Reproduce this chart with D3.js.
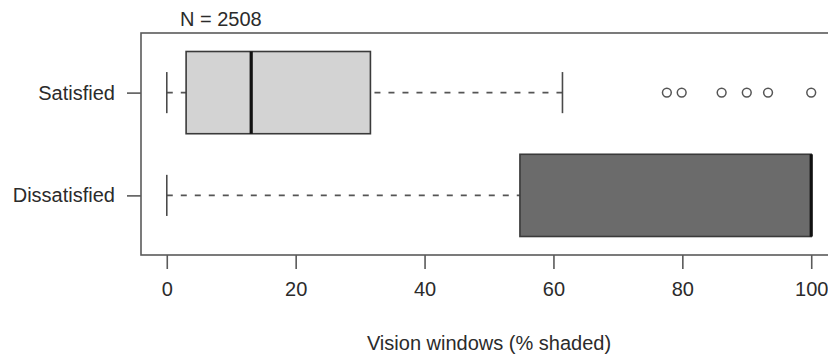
<!DOCTYPE html>
<html>
<head>
<meta charset="utf-8">
<script src="https://cdn.jsdelivr.net/npm/d3@7"></script>
<style>
  html, body { margin: 0; padding: 0; background: #fff; }
  svg { display: block; }
  text { font-family: "Liberation Sans", Arial, Helvetica, sans-serif; fill: #2b2b2b; }
</style>
</head>
<body>
<svg id="chart" width="828" height="356"></svg>
<script>
// Groups, bottom to top as laid out on the y axis
const groups = ["Dissatisfied", "Satisfied"];
const groupPos = [1, 2];
// Five-number summaries (% shaded)
const whiskerLow  = [0, 0];
const q1          = [54.8, 3];
const median      = [100, 13.1];
const q3          = [100, 31.6];
const whiskerHigh = [100, 61.4];
const outliers    = [[], [77.6, 79.9, 86.1, 90.0, 93.3, 100]];
const fills       = ["#6b6b6b", "#d3d3d3"];
const xTicks      = [0, 20, 40, 60, 80, 100];
const nLabel      = "N = 2508";
const xTitle      = "Vision windows (% shaded)";

const svg = d3.select("#chart");
const frame = { left: 141, right: 837, top: 33, bottom: 255 };

const x = d3.scaleLinear().domain([-4, 104]).range([frame.left, frame.right]);
const y = d3.scaleLinear().domain([0.42, 2.58]).range([frame.bottom, frame.top]);
const boxHalf = (y(0) - y(0.4));   // box width 0.8 in group units
const capHalf = boxHalf / 2;

const lineCol = "#4a4a4a";

// plot frame
svg.append("rect")
  .attr("x", frame.left).attr("y", frame.top)
  .attr("width", frame.right - frame.left)
  .attr("height", frame.bottom - frame.top)
  .attr("fill", "none").attr("stroke", "#5a5a5a").attr("stroke-width", 1.6);

const g = svg.append("g");
groups.forEach((name, i) => {
  const cy = y(groupPos[i]);
  const row = g.append("g");
  // dashed whiskers, drawn from the whisker end in towards the box
  [[whiskerLow[i], q1[i]], [whiskerHigh[i], q3[i]]].forEach(([from, to]) => {
    if (from === to) return;
    row.append("line")
      .attr("x1", x(from)).attr("x2", x(to))
      .attr("y1", cy).attr("y2", cy)
      .attr("stroke", "#555").attr("stroke-width", 1.8)
      .attr("stroke-dasharray", "6,8");
  });
  // whisker caps
  [whiskerLow[i], whiskerHigh[i]].forEach(v => {
    row.append("line")
      .attr("x1", x(v)).attr("x2", x(v))
      .attr("y1", cy - capHalf).attr("y2", cy + capHalf)
      .attr("stroke", lineCol).attr("stroke-width", 1.6);
  });
  // box
  row.append("rect")
    .attr("x", x(q1[i])).attr("y", cy - boxHalf)
    .attr("width", x(q3[i]) - x(q1[i]))
    .attr("height", 2 * boxHalf)
    .attr("fill", fills[i])
    .attr("stroke", "#3a3a3a").attr("stroke-width", 1.6);
  // median
  row.append("line")
    .attr("x1", x(median[i])).attr("x2", x(median[i]))
    .attr("y1", cy - boxHalf).attr("y2", cy + boxHalf)
    .attr("stroke", "#111").attr("stroke-width", 3.2);
  // outliers
  row.selectAll("circle").data(outliers[i]).join("circle")
    .attr("cx", d => x(d)).attr("cy", cy).attr("r", 4.4)
    .attr("fill", "none").attr("stroke", "#555").attr("stroke-width", 1.5);
});

// x axis
const xAxis = d3.axisBottom(x).tickValues(xTicks).tickSize(14).tickPadding(13);
const gx = svg.append("g")
  .attr("transform", `translate(0,${frame.bottom})`)
  .call(xAxis);
gx.select(".domain").remove();
gx.selectAll(".tick line").attr("stroke", "#5a5a5a").attr("stroke-width", 1.6);
gx.selectAll(".tick text")
  .attr("font-size", 20).style("font-family", "'Liberation Sans', Arial, sans-serif")
  .attr("fill", "#2b2b2b");

// y axis
const yAxis = d3.axisLeft(y).tickValues(groupPos)
  .tickFormat((d, i) => groups[i]).tickSize(14).tickPadding(12);
const gy = svg.append("g")
  .attr("transform", `translate(${frame.left},0)`)
  .call(yAxis);
gy.select(".domain").remove();
gy.selectAll(".tick line").attr("stroke", "#5a5a5a").attr("stroke-width", 1.6);
gy.selectAll(".tick text")
  .attr("font-size", 20).style("font-family", "'Liberation Sans', Arial, sans-serif")
  .attr("fill", "#2b2b2b");

// annotations
svg.append("text")
  .attr("x", 180).attr("y", 26)
  .attr("font-size", 20)
  .text(nLabel);

svg.append("text")
  .attr("x", x(50)).attr("y", 350)
  .attr("text-anchor", "middle")
  .attr("font-size", 20)
  .text(xTitle);
</script>
</body>
</html>
